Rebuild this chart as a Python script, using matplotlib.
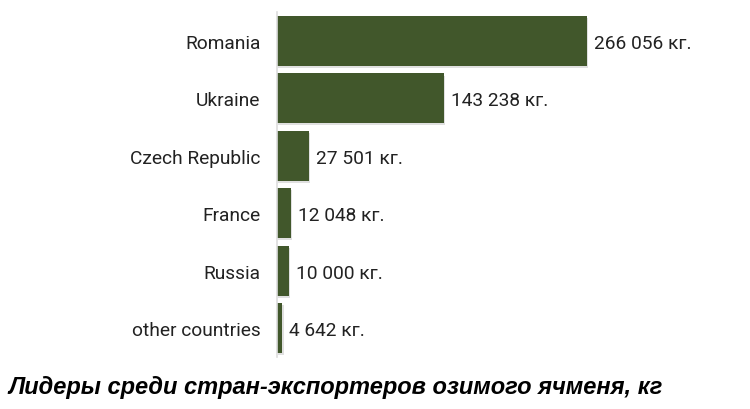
import matplotlib.pyplot as plt
import matplotlib.patheffects as pe

countries = ['Romania', 'Ukraine', 'Czech Republic', 'France', 'Russia', 'other countries']
values = [266056, 143238, 27501, 12048, 10000, 4642]
title = 'Лидеры среди стран-экспортеров озимого ячменя, кг'

bar_color = '#41572b'

fig = plt.figure(figsize=(7.5, 4.1), dpi=100)
ax = fig.add_axes([277 / 750, 1 - 357.7 / 410, 463 / 750, 344.4 / 410])

ypos = list(range(len(countries)))
bars = ax.barh(ypos, values, height=0.87, color=bar_color)
for b in bars:
    b.set_path_effects([pe.SimplePatchShadow(offset=(1, -1.5), shadow_rgbFace='#999999', alpha=0.3), pe.Normal()])

for y, v in zip(ypos, values):
    txt = f'{v:,}'.replace(',', ' ') + ' кг.'
    ax.annotate(txt, (v, y), xytext=(5, -1.5), textcoords='offset points',
                va='center', ha='left', fontsize=13.8, family='Roboto', color='#222222')

ax.set_xlim(0, 266056 * 463 / 310)
ax.set_ylim(len(countries) - 0.5, -0.5)
ax.set_yticks(ypos)
ax.set_yticklabels(countries, family='Roboto', fontsize=13.8, color='#222222')
ax.tick_params(axis='y', length=0, pad=12)
ax.set_xticks([])
for s in ['top', 'right', 'bottom']:
    ax.spines[s].set_visible(False)
ax.spines['left'].set_color('#dddddd')
ax.spines['left'].set_linewidth(1.2)

fig.text(8 / 750, 1 - 388 / 410, title, ha='left', va='center',
         fontsize=17, fontweight='bold', fontstyle='italic', family='Liberation Sans', color='black')

fig.savefig('out.png', dpi=100)
